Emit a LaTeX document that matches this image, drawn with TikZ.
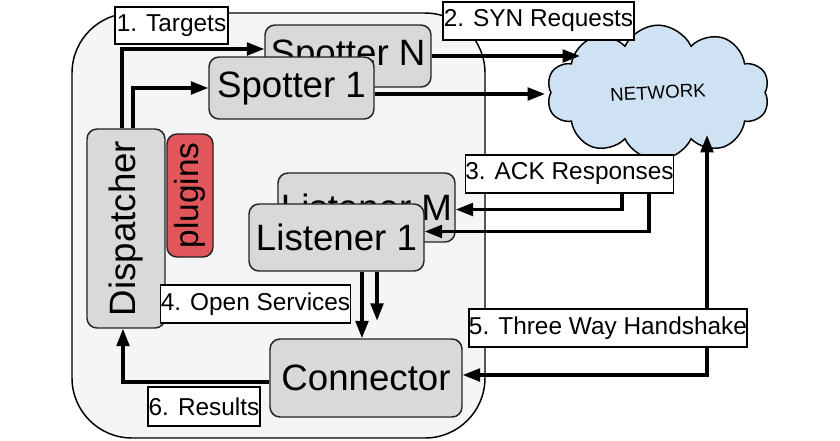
\documentclass[tikz,border=0pt]{standalone}
\usepackage{fontspec}
\setmainfont{Liberation Sans}
\usepackage{graphicx}
\usetikzlibrary{arrows.meta,shapes.symbols,calc}
\definecolor{boxgray}{HTML}{D9D9D9}
\definecolor{panel}{HTML}{F5F5F5}
\definecolor{plugred}{HTML}{E0565B}
\definecolor{cloudblue}{HTML}{CFE2F3}
\definecolor{edgegray}{HTML}{222222}
\begin{document}
\begin{tikzpicture}[x=0.75pt,y=-0.75pt,
  comp/.style={draw=edgegray, line width=1.1pt, fill=boxgray, rounded corners=7.5pt, inner sep=0pt, font=\fontsize{27.5}{30}\selectfont},
  lbl/.style={draw=black, line width=1pt, fill=white, inner sep=0pt, font=\fontsize{18.3}{20}\selectfont},
  arr/.style={line width=2.4pt, -{Triangle[length=13pt,width=9.5pt]}},
  arrboth/.style={line width=2.4pt, {Triangle[length=13pt,width=9.5pt]}-{Triangle[length=13pt,width=9.5pt]}},
]
\useasboundingbox (0,0) rectangle (840,440);
% container panel
\draw[draw=black, line width=1.1pt, fill=panel, rounded corners=45pt] (72,13) rectangle (485,438);

% components
\node[comp, minimum width=124.5pt, minimum height=46.5pt] (spN) at (348,56) {Spotter N};
\node[comp, minimum width=123.75pt, minimum height=46.5pt] (sp1) at (291.5,88) {Spotter 1};
\node[comp, minimum width=58.5pt, minimum height=149.25pt] (disp) at (126,228.5) {\rotatebox{90}{Dispatcher}};
\node[comp, fill=plugred, minimum width=34.5pt, minimum height=92.25pt, font=\fontsize{25}{27}\selectfont] (plug) at (190,195.5) {\rotatebox{90}{plugins}};
\node[comp, minimum width=132.75pt, minimum height=51.75pt] (lM) at (366.5,207.5) {Listener M};
\node[comp, minimum width=131.25pt, minimum height=50.25pt] (l1) at (336.5,237.5) {Listener 1};
\node[comp, minimum width=144pt, minimum height=58.5pt] (conn) at (366,378) {Connector};
\node[cloud, cloud puffs=10, cloud puff arc=130, cloud ignores aspect, draw=black, line width=1.1pt, fill=cloudblue,
      minimum width=167pt, minimum height=101pt, inner sep=0pt, font=\fontsize{14}{16}\selectfont]
      (net) at (658,92.5) {\rotatebox{3}{NETWORK}};

\node[lbl, minimum width=152.25pt, minimum height=28.5pt] (L3) at (569.5,174) {3. ACK Responses};

% free-end coordinates
\coordinate (synN) at (580,57);
\coordinate (syn1) at (545,94);
\coordinate (ack1) at (622,0);
\coordinate (ack2) at (649,0);
\coordinate (hs) at (707,135);

% connectors
\draw[arr] ([xshift=-3pt]disp.north) |- ([yshift=5.25pt]spN.west);
\draw[arr] ([xshift=5.25pt]disp.north) |- (sp1.west);
\draw[arr] (spN.east) -- (spN.east -| synN);
\draw[arr] (sp1.east |- syn1) -- (syn1);
\draw[arr] (L3.south -| ack1) |- ([yshift=-1.5pt]lM.east);
\draw[arr] (L3.south -| ack2) |- ([yshift=4.5pt]l1.east);
\draw[arrboth] (hs) |- ([yshift=2.25pt]conn.east);
\draw[arr] ([xshift=19.1pt]l1.south) -- ([xshift=19.1pt]l1.south |- conn.north);
\draw[arr] ([xshift=30.4pt]l1.south) -- ++(0,49);
\draw[arr] ([yshift=-3pt]conn.west) -| ([xshift=-2.25pt]disp.south);

% labels
\node[lbl, minimum width=84.75pt, minimum height=27.75pt] (L1) at (171.5,25.5) {1. Targets};
\node[lbl, minimum width=143.25pt, minimum height=28.5pt] (L2) at (538.5,21) {2. SYN Requests};
\node[lbl, minimum width=140.25pt, minimum height=28.5pt] (L4) at (255.5,304) {4. Open Services};
\node[lbl, minimum width=208.5pt, minimum height=28.5pt] (L5) at (608,328) {5. Three Way Handshake};
\node[lbl, minimum width=84pt, minimum height=29.25pt] (L6) at (204,406.5) {6. Results};
\end{tikzpicture}
\end{document}
